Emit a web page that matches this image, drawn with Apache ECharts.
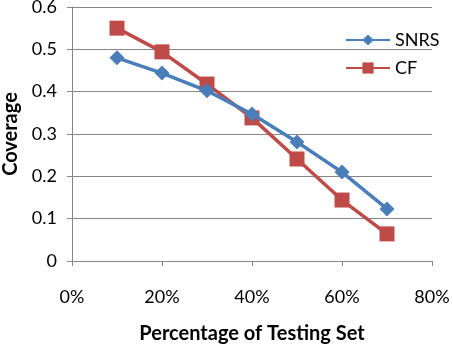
<!DOCTYPE html>
<html>
<head>
<meta charset="utf-8">
<script src="https://cdn.jsdelivr.net/npm/echarts@6/dist/echarts.min.js"></script>
<style>
  html, body { margin: 0; padding: 0; background: #ffffff; }
  #chart { width: 453px; height: 344px; }
</style>
</head>
<body>
<div id="chart"></div>
<script>
// Share of the data held out for testing (fraction) and coverage of each method
const testShare = [0.1, 0.2, 0.3, 0.4, 0.5, 0.6, 0.7];
const snrsCoverage = [0.48, 0.444, 0.402, 0.347, 0.281, 0.21, 0.123];
const cfCoverage = [0.55, 0.494, 0.418, 0.338, 0.241, 0.144, 0.064];
const seriesNames = ['SNRS', 'CF'];

const FONT = 'Lato';
const AXIS_GRAY = '#868686';

const pairs = (xs, ys) => xs.map((x, i) => [x, ys[i]]);

const chart = echarts.init(document.getElementById('chart'), null, { renderer: 'canvas' });
chart.setOption({
  animation: false,
  backgroundColor: '#ffffff',
  grid: { left: 72, right: 21, top: 7, bottom: 83, containLabel: false, outerBoundsMode: 'none' },
  legend: {
    orient: 'vertical',
    left: 340,
    top: 26,
    itemWidth: 44,
    itemHeight: 14,
    itemGap: 10,
    textStyle: { fontFamily: FONT, fontSize: 18, color: '#000' },
    data: seriesNames
  },
  xAxis: {
    type: 'value',
    min: 0,
    max: 0.8,
    interval: 0.2,
    name: 'Percentage of Testing Set',
    nameLocation: 'middle',
    nameGap: 63,
    nameTextStyle: { fontFamily: FONT, fontSize: 20, fontWeight: 'bold', color: '#000' },
    axisLine: { show: true, lineStyle: { color: AXIS_GRAY, width: 1 } },
    axisTick: { show: true, length: 5, lineStyle: { color: AXIS_GRAY } },
    splitLine: { show: false },
    axisLabel: {
      margin: 27,
      fontFamily: FONT,
      fontSize: 18,
      color: '#000',
      formatter: v => Math.round(v * 100) + '%'
    }
  },
  yAxis: {
    type: 'value',
    min: 0,
    max: 0.6,
    interval: 0.1,
    name: 'Coverage',
    nameLocation: 'middle',
    nameGap: 49,
    nameTextStyle: { fontFamily: FONT, fontSize: 20, fontWeight: 'bold', color: '#000' },
    axisLine: { show: true, lineStyle: { color: AXIS_GRAY, width: 1 } },
    axisTick: { show: true, length: 5, lineStyle: { color: AXIS_GRAY } },
    splitLine: { show: true, lineStyle: { color: AXIS_GRAY, width: 1 } },
    axisLabel: {
      margin: 15,
      fontFamily: FONT,
      fontSize: 18,
      color: '#000',
      formatter: v => (v === 0 ? '0' : v.toFixed(1))
    }
  },
  series: [
    {
      name: seriesNames[0],
      type: 'line',
      data: pairs(testShare, snrsCoverage),
      symbol: 'diamond',
      symbolSize: 15,
      lineStyle: { color: '#4a7ebb', width: 3.5 },
      itemStyle: { color: '#4a7ebb' },
      z: 3
    },
    {
      name: seriesNames[1],
      type: 'line',
      data: pairs(testShare, cfCoverage),
      symbol: 'rect',
      symbolSize: 15,
      lineStyle: { color: '#be4b48', width: 3.5 },
      itemStyle: { color: '#be4b48' },
      z: 2
    }
  ]
});
</script>
</body>
</html>
